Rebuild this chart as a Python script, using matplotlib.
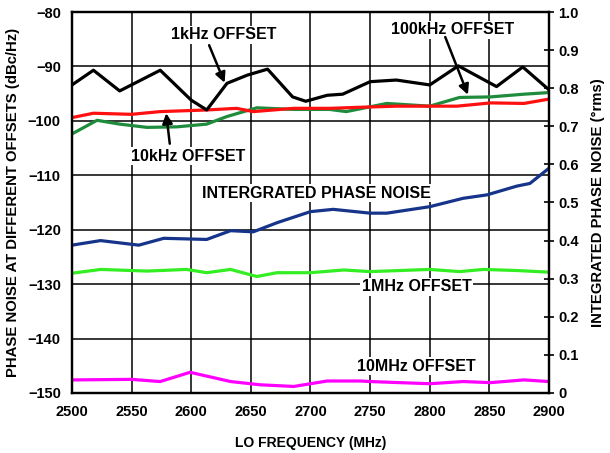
import matplotlib.pyplot as plt
import numpy as np

plt.rcParams['font.family'] = ['Liberation Sans', 'DejaVu Sans']
plt.rcParams['font.weight'] = 'bold'
plt.rcParams['axes.labelweight'] = 'bold'
plt.rcParams['axes.unicode_minus'] = True

# LO frequency (MHz) and phase noise curves (dBc/Hz)
f_1k = [2500, 2518, 2540, 2574, 2600, 2613, 2630, 2647, 2664, 2685, 2696, 2714, 2727,
        2742, 2750, 2772, 2800, 2824, 2856, 2878, 2900]
pn_1k = [-93.4, -90.7, -94.5, -90.7, -96.2, -98.0, -93.1, -91.6, -90.5, -95.6, -96.4, -95.3,
         -95.1, -93.6, -92.8, -92.5, -93.4, -89.9, -93.7, -90.1, -94.3]

f_10k = [2500, 2518, 2550, 2574, 2613, 2638, 2652, 2686, 2716, 2742, 2772, 2823, 2851, 2879, 2900]
pn_10k = [-99.4, -98.6, -98.8, -98.3, -98.0, -97.7, -98.3, -97.7, -97.7, -97.5, -97.3, -97.3,
          -96.7, -96.8, -96.0]

f_100k = [2500, 2521, 2540, 2563, 2588, 2613, 2630, 2655, 2686, 2716, 2730, 2764, 2800, 2825,
          2851, 2879, 2900]
pn_100k = [-102.4, -99.9, -100.6, -101.2, -101.1, -100.6, -99.2, -97.6, -97.9, -97.9, -98.3,
           -96.8, -97.3, -95.7, -95.6, -95.1, -94.8]

f_1m = [2500, 2524, 2563, 2596, 2613, 2633, 2655, 2672, 2700, 2728, 2750, 2800, 2825, 2845,
        2873, 2900]
pn_1m = [-128.0, -127.3, -127.6, -127.3, -127.9, -127.3, -128.6, -127.9, -127.9, -127.4, -127.7,
         -127.3, -127.7, -127.3, -127.5, -127.8]

f_10m = [2500, 2550, 2574, 2599, 2633, 2658, 2686, 2700, 2714, 2742, 2750, 2800, 2828, 2851,
         2879, 2900]
pn_10m = [-147.6, -147.5, -147.9, -146.2, -147.9, -148.5, -148.8, -148.3, -147.8, -147.8, -147.9,
          -148.3, -147.9, -148.1, -147.6, -147.9]

# integrated phase noise (deg rms), right axis
f_int = [2500, 2524, 2556, 2577, 2613, 2633, 2652, 2672, 2700, 2719, 2750, 2764, 2800, 2828,
         2848, 2873, 2884, 2900]
int_pn = [0.388, 0.400, 0.388, 0.406, 0.403, 0.426, 0.423, 0.447, 0.476, 0.482, 0.472, 0.472,
          0.489, 0.511, 0.520, 0.543, 0.550, 0.590]

fig = plt.figure(figsize=(6.1, 4.53), dpi=100)
ax = fig.add_axes([0.118, 0.1325, 0.782, 0.841])
ax2 = ax.twinx()

lw = 2.3
ax.plot(f_1m, pn_1m, color='#33ee22', lw=lw)
ax.plot(f_10m, pn_10m, color='#ff00ff', lw=lw)
ax.plot(f_100k, pn_100k, color='#1e8c3c', lw=lw)
ax.plot(f_10k, pn_10k, color='#ff1010', lw=lw)
ax.plot(f_1k, pn_1k, color='black', lw=lw)
ax2.plot(f_int, int_pn, color='#16348a', lw=lw)

ax.set_xlim(2500, 2900)
ax.set_ylim(-150, -80)
ax.set_xticks(np.arange(2500, 2901, 50))
ax.set_yticks(np.arange(-150, -79, 10))
ax.grid(True, color='black', lw=1.1)
ax.tick_params(length=0, labelsize=10.5)
ax.tick_params(axis='x', pad=9)
ax.tick_params(axis='y', pad=8)

ax2.set_ylim(0, 1.0)
ax2.set_yticks(np.arange(0, 1.01, 0.1))
ax2.set_yticklabels(['0'] + ['%.1f' % v for v in np.arange(0.1, 1.01, 0.1)])
ax2.tick_params(axis='y', direction='inout', length=7, width=1.2, labelsize=10.5, pad=3)

for lbl in ax.get_xticklabels() + ax.get_yticklabels() + ax2.get_yticklabels():
    lbl.set_fontweight('bold')

for a in (ax, ax2):
    for s in a.spines.values():
        s.set_linewidth(1.6)

ax.set_xlabel('LO FREQUENCY (MHz)', fontsize=10, labelpad=12)
ax.set_ylabel('PHASE NOISE AT DIFFERENT OFFSETS (dBc/Hz)', fontsize=10.7, labelpad=6)
ax2.set_ylabel('INTEGRATED PHASE NOISE (°rms)', fontsize=10.7, rotation=90, labelpad=9)

box = dict(facecolor='white', edgecolor='none', pad=1)
txt = dict(fontsize=11.5, fontweight='bold', ha='center', va='center', bbox=box, zorder=5)
ax.text(2627, -84.2, '1kHz OFFSET', **txt)
ax.text(2597, -106.5, '10kHz OFFSET', **txt)
ax.text(2819, -83.3, '100kHz OFFSET', **txt)
ax.text(2705, -113.3, 'INTERGRATED PHASE NOISE', **txt)
ax.text(2789, -130.5, '1MHz OFFSET', **txt)
ax.text(2789, -145.1, '10MHz OFFSET', **txt)

arrow = dict(arrowstyle='-|>', color='black', lw=1.8, mutation_scale=15,
             shrinkA=0, shrinkB=0)
ax.annotate('', xy=(2628, -93.0), xytext=(2615, -86.1), arrowprops=arrow, zorder=6)
ax.annotate('', xy=(2579, -98.6), xytext=(2582, -104.2), arrowprops=arrow, zorder=6)
ax.annotate('', xy=(2832, -95.2), xytext=(2813, -84.6), arrowprops=arrow, zorder=6)

fig.savefig('out.png', dpi=100)
